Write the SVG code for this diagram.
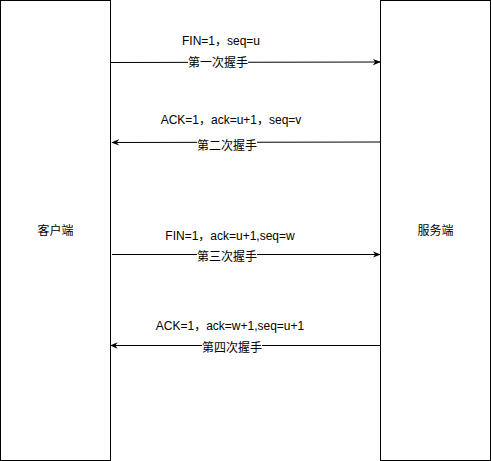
<svg xmlns="http://www.w3.org/2000/svg" width="491" height="461" viewBox="0 0 491 461">
<defs>
<style>
.box{fill:#fff;stroke:#000;stroke-width:1}
.t{font-family:"Liberation Sans","Noto Sans CJK SC",sans-serif;font-size:12px;fill:#000;text-anchor:middle;dominant-baseline:central}
.ln{stroke:#000;stroke-width:1;fill:none}
.lb{fill:#fff}
</style>
<marker id="ah" viewBox="0 0 10 10" refX="9" refY="5" markerWidth="8" markerHeight="8" markerUnits="userSpaceOnUse" orient="auto">
<path d="M0,1 L10,5 L0,9 L3,5 Z" fill="#000"/>
</marker>
</defs>
<g id="client">
<rect class="box" x="0.5" y="0.5" width="110" height="460"/>
<text class="t" x="55.5" y="231">客户端</text>
</g>
<g id="server">
<rect class="box" x="380.5" y="0.5" width="110" height="460"/>
<text class="t" x="435.5" y="231">服务端</text>
</g>
<g id="connectors">
<line class="ln" x1="110.5" y1="62.5" x2="380" y2="62" marker-end="url(#ah)"/>
<line class="ln" x1="380.5" y1="142" x2="112" y2="142.5" marker-end="url(#ah)"/>
<line class="ln" x1="112" y1="254.5" x2="380" y2="254.5" marker-end="url(#ah)"/>
<line class="ln" x1="380.5" y1="345.5" x2="110.5" y2="345.5" marker-end="url(#ah)"/>
<rect class="lb" x="188" y="56" width="60" height="14"/>
<text class="t" x="218" y="63">第一次握手</text>
<rect class="lb" x="197" y="139" width="60" height="14"/>
<text class="t" x="227" y="146">第二次握手</text>
<rect class="lb" x="197" y="250" width="60" height="14"/>
<text class="t" x="227" y="257">第三次握手</text>
<rect class="lb" x="202" y="341" width="60" height="14"/>
<text class="t" x="232" y="348">第四次握手</text>
</g>
<g id="labels">
<text class="t" x="221" y="41">FIN=1，seq=u</text>
<text class="t" x="231" y="120">ACK=1，ack=u+1，seq=v</text>
<text class="t" x="230" y="236">FIN=1，ack=u+1,seq=w</text>
<text class="t" x="230" y="326">ACK=1，ack=w+1,seq=u+1</text>
</g>
</svg>
